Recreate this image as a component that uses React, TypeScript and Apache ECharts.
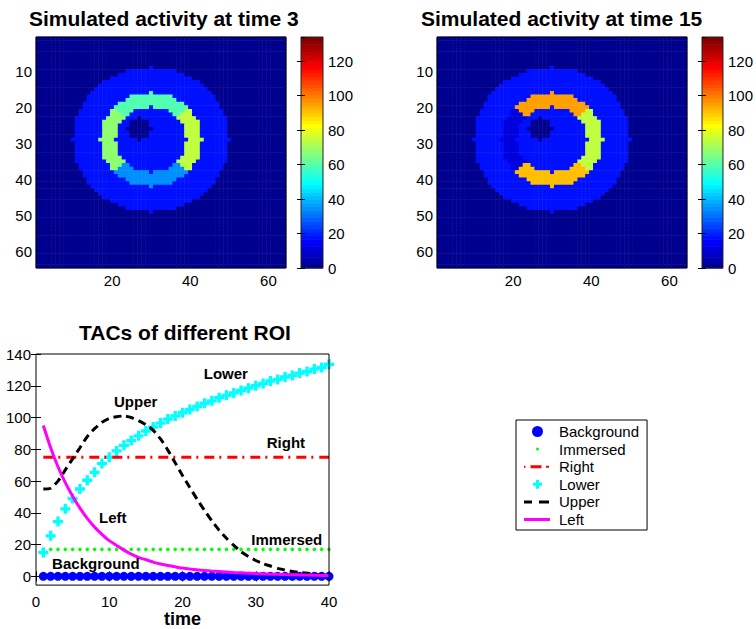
import React, { useEffect, useRef } from "react";
import * as echarts from "echarts";

// ---------- data ----------
const times = [1, 2, 3, 4, 5, 6, 7, 8, 9, 10, 11, 12, 13, 14, 15, 16, 17, 18, 19, 20,
  21, 22, 23, 24, 25, 26, 27, 28, 29, 30, 31, 32, 33, 34, 35, 36, 37, 38, 39, 40];
const background = [0, 0, 0, 0, 0, 0, 0, 0, 0, 0, 0, 0, 0, 0, 0, 0, 0, 0, 0, 0,
  0, 0, 0, 0, 0, 0, 0, 0, 0, 0, 0, 0, 0, 0, 0, 0, 0, 0, 0, 0];
const immersed = [17, 17, 17, 17, 17, 17, 17, 17, 17, 17, 17, 17, 17, 17, 17, 17, 17, 17, 17, 17,
  17, 17, 17, 17, 17, 17, 17, 17, 17, 17, 17, 17, 17, 17, 17, 17, 17, 17, 17, 17];
const right = [75, 75, 75, 75, 75, 75, 75, 75, 75, 75, 75, 75, 75, 75, 75, 75, 75, 75, 75, 75,
  75, 75, 75, 75, 75, 75, 75, 75, 75, 75, 75, 75, 75, 75, 75, 75, 75, 75, 75, 75];
const lower = [15, 25.5, 34.5, 42.5, 49, 55, 60.5, 65.5, 71, 75, 79, 82.5, 85.5, 88.5, 91.5, 94, 96.5, 99, 101, 103,
  105, 107, 109, 110.5, 112.5, 114, 115.5, 117, 118.5, 120, 121.5, 123, 124, 125.5, 126.5, 128, 129, 130.5, 131.5, 133.5];
const upper = [55, 55.5, 60, 67, 74, 81, 88, 93, 97, 99.5, 100.5, 101, 100, 98, 95.5, 92, 86.5, 79.5, 71.5, 63.5,
  56, 48.5, 41.5, 35, 29, 24, 19.5, 15.5, 12.5, 10, 8, 6.5, 5, 4, 3, 2.5, 2, 1.5, 1, 1];
const left = [95, 81, 69, 59, 50.5, 43, 36.5, 31, 26.5, 22.5, 19.5, 16.5, 14, 12, 10.5, 9, 7.8, 6.8, 6, 5.2,
  4.6, 4.1, 3.7, 3.3, 3, 2.7, 2.4, 2.2, 2, 1.8, 1.6, 1.4, 1.3, 1.1, 1, 0.9, 0.8, 0.7, 0.6, 0.5];

const seriesNames = ["Background", "Immersed", "Right", "Lower", "Upper", "Left"];
const snapshotTimes = [3, 15];
const colorMax = 134;
const tacYTicks = [0, 20, 40, 60, 80, 100, 120, 140];
const annotationNames = ["Lower", "Upper", "Right", "Left", "Immersed", "Background"];
const annotationX = [22.9, 10.65, 31.5, 8.6, 29.4, 2.2];
const annotationY = [127.9, 110.1, 84, 37, 23.3, 8.3];

// phantom geometry (64 x 64 image)
const imageSize = 64;
const phantomCenter = [30, 29];
const phantomR2 = 400;
const ringInnerR2 = 81;
const ringOuterR2 = 169;
const spotCenter = [27, 26];
const spotR2 = 9;

const FONT = "Liberation Sans, Arial, Helvetica, sans-serif";

const regionSeries: Record<string, number[]> = {
  Background: background,
  Immersed: immersed,
  Right: right,
  Lower: lower,
  Upper: upper,
  Left: left,
};

function regionOf(c: number, r: number): string {
  const sx = c - spotCenter[0];
  const sy = r - spotCenter[1];
  if (sx * sx + sy * sy <= spotR2) return "Background";
  const dx = c - phantomCenter[0];
  const dy = r - phantomCenter[1];
  const d2 = dx * dx + dy * dy;
  if (d2 > phantomR2) return "Background";
  if (d2 > ringInnerR2 && d2 <= ringOuterR2) {
    if (-dy >= Math.abs(dx)) return "Upper";
    if (dy >= Math.abs(dx)) return "Lower";
    return dx > 0 ? "Right" : "Left";
  }
  return "Immersed";
}

function buildImage(t: number) {
  const out: number[][] = [];
  for (let r = 1; r <= imageSize; r++) {
    for (let c = 1; c <= imageSize; c++) {
      out.push([c - 1, r - 1, regionSeries[regionOf(c, r)][t - 1]]);
    }
  }
  return out;
}

function jet64(k: number) {
  const b = k <= 8 ? (k + 8) / 16 : k <= 24 ? 1 : k <= 39 ? (40 - k) / 16 : 0;
  const g = k <= 8 ? 0 : k <= 24 ? (k - 8) / 16 : k <= 40 ? 1 : k <= 55 ? (56 - k) / 16 : 0;
  const r = k <= 24 ? 0 : k <= 40 ? (k - 24) / 16 : k <= 56 ? 1 : (72 - k) / 16;
  const h = (v: number) => Math.round(v * 255).toString(16).padStart(2, "0");
  return "#" + h(r) + h(g) + h(b);
}
const jetColors = Array.from({ length: 64 }, (_, i) => jet64(i + 1));

const categories = Array.from({ length: imageSize }, (_, i) => String(i + 1));

const plusPath = "path://M3 0H6V3H9V6H6V9H3V6H0V3H3Z";

export default function App() {
  const ref = useRef<HTMLDivElement>(null);

  useEffect(() => {
    if (!ref.current) return;
    const chart = echarts.init(ref.current, undefined, { renderer: "svg" });

    const gridBase = { show: true, borderColor: "#000", borderWidth: 1, backgroundColor: "transparent", z: 10 };

    const heatX = (gi: number) => ({
      type: "category", gridIndex: gi, data: categories,
      axisLine: { show: false }, axisTick: { show: false }, splitLine: { show: false },
      axisLabel: { interval: (i: number) => (i + 1) % 20 === 0, fontSize: 15, color: "#000", margin: 5 },
    });
    const heatY = (gi: number) => ({
      type: "category", gridIndex: gi, data: categories, inverse: true,
      axisLine: { show: false }, axisTick: { show: false }, splitLine: { show: false },
      axisLabel: { interval: (i: number) => (i + 1) % 10 === 0, fontSize: 15, color: "#000", margin: 4 },
    });
    const cbX = (gi: number) => ({ type: "value", gridIndex: gi, min: 0, max: 1, show: false });
    const cbY = (gi: number, pos: string, labels: boolean) => ({
      type: "value", gridIndex: gi, position: pos, min: 0, max: colorMax, interval: 20, z: 11,
      axisLine: { show: false }, splitLine: { show: false },
      axisTick: { show: true, inside: true, length: 4, lineStyle: { color: "#000" } },
      axisLabel: {
        show: labels, fontSize: 15, color: "#000", margin: 5, showMaxLabel: false,
        formatter: (v: number) => (v % 20 === 0 && v <= 120 ? String(v) : ""),
      },
    });

    const colorbarData = jetColors.map((_, i) => [0, (i * colorMax) / 64, ((i + 1) * colorMax) / 64, i]);
    const colorbarSeries = (xi: number, yi: number) => ({
      type: "custom", xAxisIndex: xi, yAxisIndex: yi, silent: true,
      data: colorbarData,
      renderItem: (_p: any, api: any) => {
        const a = api.coord([0, api.value(1)]);
        const b = api.coord([1, api.value(2)]);
        return {
          type: "rect",
          shape: { x: a[0], y: b[1], width: b[0] - a[0], height: a[1] - b[1] + 0.6 },
          style: { fill: jetColors[api.value(3)] },
        };
      },
    });

    const pieces = jetColors.map((c, i) => ({
      gte: (i * colorMax) / 64,
      lt: i === 63 ? colorMax + 100 : ((i + 1) * colorMax) / 64,
      color: c,
    }));

    const tacCommonTick = { show: true, inside: true, length: 5, lineStyle: { color: "#000" } };
    const titleStyle = { fontSize: 21, fontWeight: "bold", color: "#000", fontFamily: FONT };

    const option: any = {
      animation: false,
      backgroundColor: "#fff",
      textStyle: { fontFamily: FONT },
      title: [
        { text: "Simulated activity at time " + snapshotTimes[0], left: 29, top: 8, padding: 0, textStyle: titleStyle },
        { text: "Simulated activity at time " + snapshotTimes[1], left: 421, top: 8, padding: 0, textStyle: titleStyle },
        { text: "TACs of different ROI", left: 79, top: 322, padding: 0, textStyle: titleStyle },
      ],
      grid: [
        { ...gridBase, left: 36, top: 37, width: 250, height: 231 },
        { ...gridBase, left: 301, top: 37, width: 22, height: 231, borderColor: "#222" },
        { ...gridBase, left: 437, top: 37, width: 250, height: 231 },
        { ...gridBase, left: 702, top: 37, width: 22, height: 231, borderColor: "#222" },
        { ...gridBase, left: 36, top: 354, width: 293, height: 232 },
      ],
      xAxis: [
        heatX(0),
        cbX(1),
        heatX(2),
        cbX(3),
        {
          type: "value", gridIndex: 4, min: 0, max: 40, interval: 10, position: "bottom",
          axisLine: { show: false }, splitLine: { show: false }, axisTick: tacCommonTick,
          axisLabel: { fontSize: 15, color: "#000", margin: 9 },
          name: "time", nameLocation: "middle", nameGap: 23,
          nameTextStyle: { fontSize: 18, fontWeight: "bold", color: "#000", fontFamily: FONT },
        },
        {
          type: "value", gridIndex: 4, min: 0, max: 40, interval: 10, position: "top",
          axisLine: { show: false }, splitLine: { show: false }, axisTick: tacCommonTick,
          axisLabel: { show: false },
        },
      ],
      yAxis: [
        heatY(0),
        cbY(1, "right", true),
        heatY(2),
        cbY(3, "right", true),
        {
          type: "value", gridIndex: 4, min: -5.5, max: 140, position: "left",
          axisLine: { show: false }, splitLine: { show: false },
          axisTick: { ...tacCommonTick, customValues: tacYTicks },
          axisLabel: { fontSize: 15, color: "#000", margin: 5, customValues: tacYTicks },
        },
        {
          type: "value", gridIndex: 4, min: -5.5, max: 140, position: "right",
          axisLine: { show: false }, splitLine: { show: false },
          axisTick: { ...tacCommonTick, customValues: tacYTicks },
          axisLabel: { show: false, customValues: tacYTicks },
        },
        cbY(1, "left", false),
        cbY(3, "left", false),
      ],
      visualMap: {
        type: "piecewise", show: false, seriesIndex: [0, 1], dimension: 2, pieces,
      },
      legend: {
        show: true, orient: "vertical", left: 516, top: 420, padding: [4, 8, 3, 8],
        itemGap: 2.6, itemWidth: 30, itemHeight: 11, borderColor: "#000", borderWidth: 1,
        backgroundColor: "#fff", selectedMode: false,
        textStyle: { fontSize: 15, color: "#000", fontFamily: FONT },
        itemStyle: { borderWidth: 0, opacity: 1 },
        data: [
          { name: seriesNames[0], icon: "path://M0 0M30 11M8 5.5a5.5 5.5 0 1 0 11 0a5.5 5.5 0 1 0 -11 0Z", itemStyle: { color: "#0000FF" } },
          { name: seriesNames[1], icon: "path://M0 0M30 11M12 5.5a1.5 1.5 0 1 0 3 0a1.5 1.5 0 1 0 -3 0Z", itemStyle: { color: "#00FF00" } },
          { name: seriesNames[2], icon: "path://M0 0M30 11M0 4.5H1.5V6.5H0Z M6.5 4H17.5V7H6.5Z M22 4.5H25V6.5H22Z", itemStyle: { color: "#FF0000" } },
          { name: seriesNames[3], icon: "path://M0 0M30 11M12 1H15V4H18V7H15V10H12V7H9V4H12Z", itemStyle: { color: "#00FFFF" } },
          { name: seriesNames[4], icon: "path://M0 0M30 11M0 4H8V7H0Z M15 4H25V7H15Z", itemStyle: { color: "#000000" } },
          { name: seriesNames[5], icon: "path://M0 0M30 11M0 4H26V7H0Z", itemStyle: { color: "#FF00FF" } },
        ],
      },
      series: [
        { type: "heatmap", xAxisIndex: 0, yAxisIndex: 0, data: buildImage(snapshotTimes[0]), progressive: 0, silent: true },
        { type: "heatmap", xAxisIndex: 2, yAxisIndex: 2, data: buildImage(snapshotTimes[1]), progressive: 0, silent: true },
        colorbarSeries(1, 1),
        colorbarSeries(3, 3),
        {
          name: seriesNames[0], type: "scatter", xAxisIndex: 4, yAxisIndex: 4, symbol: "circle", symbolSize: 9,
          itemStyle: { color: "#0000FF", opacity: 1 }, data: times.map((t, i) => [t, background[i]]), silent: true,
        },
        {
          name: seriesNames[1], type: "scatter", xAxisIndex: 4, yAxisIndex: 4, symbol: "circle", symbolSize: 3.5,
          itemStyle: { color: "#00FF00", opacity: 1 }, data: times.map((t, i) => [t, immersed[i]]), silent: true,
        },
        {
          name: seriesNames[2], type: "line", xAxisIndex: 4, yAxisIndex: 4, symbol: "none", showSymbol: false,
          lineStyle: { color: "#FF0000", width: 3, type: [10, 5, 2, 6] }, itemStyle: { color: "#FF0000" },
          data: times.map((t, i) => [t, right[i]]), silent: true,
        },
        {
          name: seriesNames[3], type: "scatter", xAxisIndex: 4, yAxisIndex: 4, symbol: plusPath, symbolSize: 10,
          itemStyle: { color: "#00FFFF", opacity: 1 }, data: times.map((t, i) => [t, lower[i]]), silent: true,
        },
        {
          name: seriesNames[4], type: "line", xAxisIndex: 4, yAxisIndex: 4, symbol: "none", showSymbol: false, smooth: 0.2,
          lineStyle: { color: "#000000", width: 3, type: [8, 5] }, itemStyle: { color: "#000000" },
          data: times.map((t, i) => [t, upper[i]]), silent: true,
        },
        {
          name: seriesNames[5], type: "line", xAxisIndex: 4, yAxisIndex: 4, symbol: "none", showSymbol: false, smooth: 0.2,
          lineStyle: { color: "#FF00FF", width: 3 }, itemStyle: { color: "#FF00FF" },
          data: times.map((t, i) => [t, left[i]]), silent: true,
        },
        {
          name: "annotations", type: "scatter", xAxisIndex: 4, yAxisIndex: 4, symbolSize: 0.01, z: 5, silent: true,
          itemStyle: { color: "rgba(0,0,0,0)", opacity: 1 },
          label: {
            show: true, position: "right", distance: 0, formatter: "{b}", opacity: 1,
            fontSize: 15, fontWeight: "bold", color: "#000", fontFamily: FONT,
          },
          data: annotationNames.map((n, i) => ({ name: n, value: [annotationX[i], annotationY[i]] })),
        },
      ],
    };

    chart.setOption(option);
    return () => chart.dispose();
  }, []);

  return (
    <div
      ref={ref}
      style={{ position: "fixed", left: 0, top: 0, width: 756, height: 629, background: "#fff" }}
    />
  );
}
